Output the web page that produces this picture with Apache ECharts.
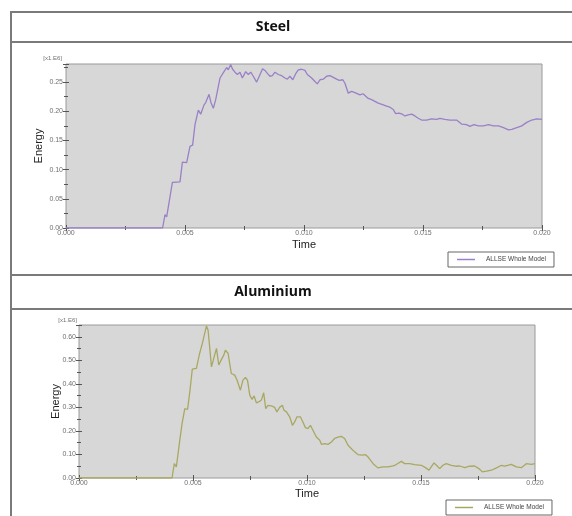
<!DOCTYPE html>
<html>
<head>
<meta charset="utf-8">
<script src="https://cdn.jsdelivr.net/npm/echarts@6/dist/echarts.min.js"></script>
<style>
  html, body { margin: 0; padding: 0; background: #ffffff; }
  #chart { width: 572px; height: 516px; }
</style>
</head>
<body>
<div id="chart"></div>
<script>
// Panel titles and labels
const panelTitles = ['Steel', 'Aluminium'];
const legendLabel = 'ALLSE Whole Model';
const scaleNote = '[x1.E6]';
const xName = 'Time';
const yName = 'Energy';

// Axis ranges (energy in units of 1e6)
const timeRange = [0, 0.02, 0.005];
const steelRange = [0, 0.281, 0.05];
const alumRange = [0, 0.65, 0.1];

// Strain energy vs time, steel model: [time, energy]
const steelSeries = [
  [0, 0], [0.00406, 0], [0.00416, 0.023], [0.00423, 0.019], [0.00447, 0.078],
  [0.00479, 0.079], [0.00489, 0.113], [0.00507, 0.112], [0.00521, 0.140], [0.00532, 0.142],
  [0.00542, 0.177], [0.00556, 0.202], [0.00566, 0.195], [0.00580, 0.211], [0.00587, 0.215],
  [0.00601, 0.229], [0.00609, 0.215], [0.00619, 0.205], [0.00629, 0.220], [0.00647, 0.257],
  [0.00654, 0.254], [0.00664, 0.268], [0.00675, 0.275], [0.00682, 0.271], [0.00692, 0.280],
  [0.00700, 0.272], [0.00710, 0.267], [0.00720, 0.263], [0.00731, 0.267], [0.00741, 0.257],
  [0.00755, 0.268], [0.00766, 0.263], [0.00776, 0.267], [0.00787, 0.260], [0.00801, 0.250],
  [0.00812, 0.260], [0.00826, 0.273], [0.00836, 0.270], [0.00846, 0.265], [0.00857, 0.260],
  [0.00867, 0.261], [0.00878, 0.267], [0.00892, 0.263], [0.00906, 0.261], [0.00920, 0.257],
  [0.00930, 0.255], [0.00941, 0.260], [0.00953, 0.254], [0.00966, 0.265], [0.00976, 0.271],
  [0.00990, 0.272], [0.01004, 0.270], [0.01014, 0.263], [0.01032, 0.257], [0.01046, 0.251],
  [0.01056, 0.247], [0.01067, 0.254], [0.01081, 0.255], [0.01095, 0.260], [0.01109, 0.261],
  [0.01123, 0.258], [0.01137, 0.255], [0.01148, 0.253], [0.01163, 0.254], [0.01172, 0.248],
  [0.01186, 0.231], [0.01200, 0.234], [0.01214, 0.232], [0.01235, 0.228], [0.01248, 0.230],
  [0.01270, 0.222], [0.01284, 0.220], [0.01298, 0.217], [0.01312, 0.214], [0.01333, 0.211],
  [0.01347, 0.209], [0.01361, 0.207], [0.01375, 0.203], [0.01385, 0.196], [0.01399, 0.197],
  [0.01413, 0.195], [0.01424, 0.192], [0.01438, 0.194], [0.01452, 0.195], [0.01466, 0.192],
  [0.01480, 0.188], [0.01494, 0.185], [0.01515, 0.185], [0.01536, 0.187], [0.01557, 0.186],
  [0.01571, 0.188], [0.01592, 0.186], [0.01613, 0.185], [0.01641, 0.185], [0.01662, 0.178],
  [0.01683, 0.177], [0.01697, 0.174], [0.01714, 0.177], [0.01733, 0.175], [0.01754, 0.175],
  [0.01775, 0.177], [0.01796, 0.175], [0.01817, 0.175], [0.01838, 0.172], [0.01859, 0.168],
  [0.01873, 0.169], [0.01894, 0.172], [0.01915, 0.175], [0.01936, 0.181], [0.01957, 0.185],
  [0.01978, 0.187], [0.02000, 0.186]
];

// Strain energy vs time, aluminium model: [time, energy]
const alumSeries = [
  [0, 0], [0.00408, 0], [0.00418, 0.061], [0.00427, 0.047], [0.00442, 0.160],
  [0.00452, 0.231], [0.00464, 0.295], [0.00476, 0.291], [0.00486, 0.366], [0.00497, 0.463],
  [0.00515, 0.466], [0.00529, 0.529], [0.00541, 0.572], [0.00548, 0.565], [0.00559, 0.646],
  [0.00566, 0.629], [0.00573, 0.557], [0.00581, 0.472], [0.00591, 0.508], [0.00603, 0.551],
  [0.00613, 0.480], [0.00625, 0.504], [0.00635, 0.522], [0.00642, 0.543], [0.00654, 0.529],
  [0.00668, 0.444], [0.00683, 0.437], [0.00693, 0.416], [0.00708, 0.373], [0.00719, 0.416],
  [0.00730, 0.427], [0.00739, 0.416], [0.00749, 0.352], [0.00759, 0.334], [0.00768, 0.349],
  [0.00778, 0.319], [0.00788, 0.323], [0.00800, 0.331], [0.00810, 0.362], [0.00819, 0.295],
  [0.00829, 0.309], [0.00848, 0.305], [0.00858, 0.300], [0.00868, 0.281], [0.00880, 0.300],
  [0.00892, 0.309], [0.00899, 0.288], [0.00910, 0.281], [0.00924, 0.260], [0.00936, 0.224],
  [0.00946, 0.238], [0.00956, 0.260], [0.00971, 0.260], [0.00982, 0.238], [0.00993, 0.214],
  [0.01004, 0.210], [0.01015, 0.224], [0.01026, 0.203], [0.01041, 0.174], [0.01056, 0.160],
  [0.01063, 0.143], [0.01078, 0.146], [0.01092, 0.143], [0.01107, 0.153], [0.01121, 0.168],
  [0.01136, 0.174], [0.01150, 0.177], [0.01165, 0.168], [0.01180, 0.139], [0.01196, 0.123],
  [0.01209, 0.111], [0.01224, 0.099], [0.01241, 0.097], [0.01257, 0.099], [0.01268, 0.089],
  [0.01290, 0.061], [0.01311, 0.043], [0.01333, 0.047], [0.01355, 0.047], [0.01377, 0.052],
  [0.01390, 0.056], [0.01414, 0.071], [0.01428, 0.061], [0.01450, 0.061], [0.01472, 0.057],
  [0.01502, 0.054], [0.01521, 0.043], [0.01535, 0.033], [0.01557, 0.064], [0.01568, 0.054],
  [0.01582, 0.040], [0.01596, 0.054], [0.01611, 0.061], [0.01633, 0.054], [0.01652, 0.050],
  [0.01670, 0.051], [0.01692, 0.044], [0.01713, 0.050], [0.01735, 0.051], [0.01754, 0.040],
  [0.01769, 0.026], [0.01787, 0.029], [0.01809, 0.033], [0.01831, 0.043], [0.01853, 0.054],
  [0.01867, 0.050], [0.01880, 0.054], [0.01896, 0.058], [0.01918, 0.047], [0.01940, 0.044],
  [0.01962, 0.061], [0.01984, 0.058], [0.02000, 0.061]
];

const steelColor = '#9a80c6';
const alumColor = '#a9a862';

const chart = echarts.init(document.getElementById('chart'), null, { renderer: 'canvas' });

const labelFont = { fontFamily: 'Liberation Sans', fontSize: 7, color: '#707070' };
const nameFont = { fontFamily: 'Liberation Sans', fontSize: 11, color: '#222' };

function xAxisFor(gridIndex, mirror, nameGap) {
  return {
    type: 'value', gridIndex: gridIndex,
    position: mirror ? 'top' : 'bottom',
    min: timeRange[0], max: timeRange[1], interval: timeRange[2],
    name: mirror ? '' : xName, nameLocation: 'middle', nameGap: nameGap,
    nameMoveOverlap: false,
    nameTextStyle: nameFont,
    axisLine: { show: false },
    axisTick: { show: true, inside: true, length: 3, lineStyle: { color: '#555', width: 1 } },
    minorTick: { show: true, splitNumber: 2, length: 2, lineStyle: { color: '#555', width: 1 } },
    splitLine: { show: false },
    axisLabel: mirror ? { show: false } : Object.assign({
      margin: 2, formatter: v => v.toFixed(3)
    }, labelFont)
  };
}

function yAxisFor(gridIndex, range, mirror, nameGap) {
  return {
    type: 'value', gridIndex: gridIndex,
    position: mirror ? 'right' : 'left',
    min: range[0], max: range[1], interval: range[2],
    name: mirror ? '' : yName, nameLocation: 'middle', nameGap: nameGap,
    nameMoveOverlap: false,
    nameTextStyle: nameFont,
    axisLine: { show: false },
    axisTick: { show: true, inside: true, length: 3, lineStyle: { color: '#555', width: 1 } },
    minorTick: { show: true, splitNumber: 2, length: 2, lineStyle: { color: '#555', width: 1 } },
    splitLine: { show: false },
    axisLabel: mirror ? { show: false } : Object.assign({
      margin: 3, showMaxLabel: false, formatter: v => v.toFixed(2)
    }, labelFont)
  };
}

function hLine(y) {
  return { type: 'line', shape: { x1: 10, y1: y, x2: 572, y2: y },
           style: { stroke: '#7a7a7a', lineWidth: 2 }, silent: true };
}

function legendFor(name, left, top) {
  return {
    data: [name], left: left, top: top,
    orient: 'horizontal',
    icon: 'rect', itemWidth: 18, itemHeight: 1.5,
    padding: [4, 8, 4, 9],
    borderColor: '#666', borderWidth: 1, borderRadius: 0,
    backgroundColor: '#fff',
    formatter: () => legendLabel,
    textStyle: { fontFamily: 'Liberation Sans', fontSize: 6.5, color: '#444', padding: [0, 0, 0, 6], lineHeight: 7 },
    selectedMode: false
  };
}

const option = {
  backgroundColor: '#ffffff',
  animation: false,
  grid: [
    { left: 66, top: 64, right: 30, bottom: 288, show: true,
      backgroundColor: '#d7d7d7', borderColor: '#9a9a9a', borderWidth: 1 },
    { left: 79, top: 325, right: 37, bottom: 38, show: true,
      backgroundColor: '#d7d7d7', borderColor: '#9a9a9a', borderWidth: 1 }
  ],
  xAxis: [
    xAxisFor(0, false, 11), xAxisFor(0, true, 0),
    xAxisFor(1, false, 10), xAxisFor(1, true, 0)
  ],
  yAxis: [
    yAxisFor(0, steelRange, false, 22), yAxisFor(0, steelRange, true, 0),
    yAxisFor(1, alumRange, false, 18), yAxisFor(1, alumRange, true, 0)
  ],
  legend: [
    legendFor('Steel', 448, 252),
    legendFor('Aluminium', 446, 500)
  ],
  graphic: [
    { type: 'line', shape: { x1: 11, y1: 11, x2: 11, y2: 516 },
      style: { stroke: '#7a7a7a', lineWidth: 2 }, silent: true },
    hLine(12), hLine(42), hLine(275), hLine(309),
    { type: 'text', x: 273, y: 27, silent: true,
      style: { text: panelTitles[0], fontFamily: 'Open Sans', fontWeight: 'bold', fontSize: 14,
               fill: '#111', align: 'center', verticalAlign: 'middle' } },
    { type: 'text', x: 273, y: 292, silent: true,
      style: { text: panelTitles[1], fontFamily: 'Open Sans', fontWeight: 'bold', fontSize: 14,
               fill: '#111', align: 'center', verticalAlign: 'middle' } },
    { type: 'text', x: 62, y: 58, silent: true,
      style: { text: scaleNote, fontFamily: 'Liberation Sans', fontSize: 6, fill: '#707070',
               align: 'right', verticalAlign: 'middle' } },
    { type: 'text', x: 77, y: 320, silent: true,
      style: { text: scaleNote, fontFamily: 'Liberation Sans', fontSize: 6, fill: '#707070',
               align: 'right', verticalAlign: 'middle' } }
  ],
  series: [
    { name: 'Steel', type: 'line', xAxisIndex: 0, yAxisIndex: 0, data: steelSeries,
      showSymbol: false, color: steelColor, lineStyle: { width: 1.3, color: steelColor } },
    { name: 'Aluminium', type: 'line', xAxisIndex: 2, yAxisIndex: 2, data: alumSeries,
      showSymbol: false, color: alumColor, lineStyle: { width: 1.3, color: alumColor } }
  ]
};

chart.setOption(option);
</script>
</body>
</html>
